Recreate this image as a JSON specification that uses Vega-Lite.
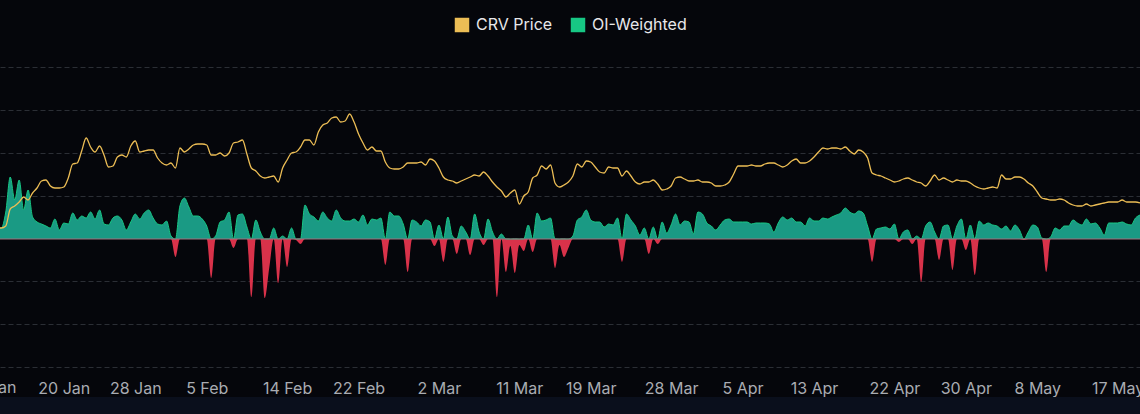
{
  "$schema": "https://vega.github.io/schema/vega-lite/v6.json",
  "width": 1140,
  "height": 300,
  "autosize": {"type": "none"},
  "padding": {"top": 67, "bottom": 47, "left": 0, "right": 0},
  "background": "#05060b",
  "config": {
    "view": {"stroke": null},
    "font": "Inter",
    "legend": {"layout": {"top": {"anchor": "middle"}}}
  },
  "data": {"values": [
    {"date":"2024-01-13T00:00","price":0.3475,"oi":0.0011},
    {"date":"2024-01-13T12:00","price":0.3475,"oi":0.0011},
    {"date":"2024-01-14T00:00","price":0.3525,"oi":0.0027},
    {"date":"2024-01-14T12:00","price":0.395,"oi":0.0062},
    {"date":"2024-01-15T00:00","price":0.4025,"oi":0.0039},
    {"date":"2024-01-15T12:00","price":0.4125,"oi":0.0059},
    {"date":"2024-01-16T00:00","price":0.425,"oi":0.0029},
    {"date":"2024-01-16T12:00","price":0.4175,"oi":0.0049},
    {"date":"2024-01-17T00:00","price":0.435,"oi":0.0022},
    {"date":"2024-01-17T12:00","price":0.4475,"oi":0.0017},
    {"date":"2024-01-18T00:00","price":0.465,"oi":0.0015},
    {"date":"2024-01-18T12:00","price":0.4675,"oi":0.0013},
    {"date":"2024-01-19T00:00","price":0.4525,"oi":0.0011},
    {"date":"2024-01-19T12:00","price":0.4475,"oi":0.002},
    {"date":"2024-01-20T00:00","price":0.4475,"oi":0.0009},
    {"date":"2024-01-20T12:00","price":0.45,"oi":0.0016},
    {"date":"2024-01-21T00:00","price":0.4725,"oi":0.0015},
    {"date":"2024-01-21T12:00","price":0.5075,"oi":0.0026},
    {"date":"2024-01-22T00:00","price":0.51,"oi":0.0019},
    {"date":"2024-01-22T12:00","price":0.54,"oi":0.0023},
    {"date":"2024-01-23T00:00","price":0.5725,"oi":0.0021},
    {"date":"2024-01-23T12:00","price":0.55,"oi":0.0027},
    {"date":"2024-01-24T00:00","price":0.5375,"oi":0.002},
    {"date":"2024-01-24T12:00","price":0.5525,"oi":0.0029},
    {"date":"2024-01-25T00:00","price":0.53,"oi":0.0015},
    {"date":"2024-01-25T12:00","price":0.5,"oi":0.0014},
    {"date":"2024-01-26T00:00","price":0.5025,"oi":0.0021},
    {"date":"2024-01-26T12:00","price":0.525,"oi":0.0023},
    {"date":"2024-01-27T00:00","price":0.53,"oi":0.0019},
    {"date":"2024-01-27T12:00","price":0.525,"oi":0.0009},
    {"date":"2024-01-28T00:00","price":0.5525,"oi":0.0017},
    {"date":"2024-01-28T12:00","price":0.565,"oi":0.0025},
    {"date":"2024-01-29T00:00","price":0.5375,"oi":0.002},
    {"date":"2024-01-29T12:00","price":0.54,"oi":0.0026},
    {"date":"2024-01-30T00:00","price":0.5425,"oi":0.0029},
    {"date":"2024-01-30T12:00","price":0.5425,"oi":0.0021},
    {"date":"2024-01-31T00:00","price":0.5225,"oi":0.0015},
    {"date":"2024-01-31T12:00","price":0.51,"oi":0.0014},
    {"date":"2024-02-01T00:00","price":0.505,"oi":0.0018},
    {"date":"2024-02-01T12:00","price":0.51,"oi":0.0003},
    {"date":"2024-02-02T00:00","price":0.4975,"oi":-0.0018},
    {"date":"2024-02-02T12:00","price":0.5475,"oi":0.0033},
    {"date":"2024-02-03T00:00","price":0.5375,"oi":0.0041},
    {"date":"2024-02-03T12:00","price":0.545,"oi":0.0032},
    {"date":"2024-02-04T00:00","price":0.555,"oi":0.0023},
    {"date":"2024-02-04T12:00","price":0.5575,"oi":0.0023},
    {"date":"2024-02-05T00:00","price":0.5575,"oi":0.002},
    {"date":"2024-02-05T12:00","price":0.555,"oi":0.0013},
    {"date":"2024-02-06T00:00","price":0.53,"oi":-0.0039},
    {"date":"2024-02-06T12:00","price":0.53,"oi":0.0003},
    {"date":"2024-02-07T00:00","price":0.535,"oi":0.0017},
    {"date":"2024-02-07T12:00","price":0.5275,"oi":0.0019},
    {"date":"2024-02-08T00:00","price":0.535,"oi":0.0027},
    {"date":"2024-02-08T12:00","price":0.56,"oi":-0.0009},
    {"date":"2024-02-09T00:00","price":0.5625,"oi":0.0024},
    {"date":"2024-02-09T12:00","price":0.5675,"oi":0.0025},
    {"date":"2024-02-10T00:00","price":0.5325,"oi":0.0012},
    {"date":"2024-02-10T12:00","price":0.4975,"oi":-0.0058},
    {"date":"2024-02-11T00:00","price":0.49,"oi":0.0019},
    {"date":"2024-02-11T12:00","price":0.4775,"oi":0.0007},
    {"date":"2024-02-12T00:00","price":0.4725,"oi":-0.0059},
    {"date":"2024-02-12T12:00","price":0.475,"oi":-0.0029},
    {"date":"2024-02-13T00:00","price":0.4775,"oi":0.0011},
    {"date":"2024-02-13T12:00","price":0.4625,"oi":-0.0044},
    {"date":"2024-02-14T00:00","price":0.4975,"oi":0.0003},
    {"date":"2024-02-14T12:00","price":0.5175,"oi":-0.0028},
    {"date":"2024-02-15T00:00","price":0.535,"oi":0.0011},
    {"date":"2024-02-15T12:00","price":0.5375,"oi":-0.0001},
    {"date":"2024-02-16T00:00","price":0.55,"oi":-0.0005},
    {"date":"2024-02-16T12:00","price":0.5675,"oi":0.0034},
    {"date":"2024-02-17T00:00","price":0.5675,"oi":0.0025},
    {"date":"2024-02-17T12:00","price":0.555,"oi":0.0022},
    {"date":"2024-02-18T00:00","price":0.5875,"oi":0.0018},
    {"date":"2024-02-18T12:00","price":0.605,"oi":0.0027},
    {"date":"2024-02-19T00:00","price":0.61,"oi":0.0021},
    {"date":"2024-02-19T12:00","price":0.6225,"oi":0.0018},
    {"date":"2024-02-20T00:00","price":0.625,"oi":0.0029},
    {"date":"2024-02-20T12:00","price":0.6125,"oi":0.0021},
    {"date":"2024-02-21T00:00","price":0.615,"oi":0.0018},
    {"date":"2024-02-21T12:00","price":0.6325,"oi":0.0018},
    {"date":"2024-02-22T00:00","price":0.6125,"oi":0.002},
    {"date":"2024-02-22T12:00","price":0.5825,"oi":0.0017},
    {"date":"2024-02-23T00:00","price":0.56,"oi":0.0024},
    {"date":"2024-02-23T12:00","price":0.5425,"oi":0.0014},
    {"date":"2024-02-24T00:00","price":0.55,"oi":0.002},
    {"date":"2024-02-24T12:00","price":0.54,"oi":0.0019},
    {"date":"2024-02-25T00:00","price":0.54,"oi":0.0021},
    {"date":"2024-02-25T12:00","price":0.5125,"oi":-0.0026},
    {"date":"2024-02-26T00:00","price":0.4975,"oi":0.0027},
    {"date":"2024-02-26T12:00","price":0.495,"oi":0.0023},
    {"date":"2024-02-27T00:00","price":0.495,"oi":0.0023},
    {"date":"2024-02-27T12:00","price":0.5,"oi":0.0015},
    {"date":"2024-02-28T00:00","price":0.51,"oi":-0.0033},
    {"date":"2024-02-28T12:00","price":0.51,"oi":0.0019},
    {"date":"2024-02-29T00:00","price":0.51,"oi":0.0017},
    {"date":"2024-02-29T12:00","price":0.5125,"oi":0.0013},
    {"date":"2024-03-01T00:00","price":0.505,"oi":0.0019},
    {"date":"2024-03-01T12:00","price":0.52,"oi":0.0017},
    {"date":"2024-03-02T00:00","price":0.515,"oi":-0.0007},
    {"date":"2024-03-02T12:00","price":0.4975,"oi":0.0014},
    {"date":"2024-03-03T00:00","price":0.475,"oi":-0.0023},
    {"date":"2024-03-03T12:00","price":0.4675,"oi":0.0022},
    {"date":"2024-03-04T00:00","price":0.465,"oi":0.0003},
    {"date":"2024-03-04T12:00","price":0.46,"oi":-0.0015},
    {"date":"2024-03-05T00:00","price":0.465,"oi":0.0013},
    {"date":"2024-03-05T12:00","price":0.47,"oi":0.0007},
    {"date":"2024-03-06T00:00","price":0.475,"oi":-0.0016},
    {"date":"2024-03-06T12:00","price":0.48,"oi":0.0025},
    {"date":"2024-03-07T00:00","price":0.4775,"oi":0.0007},
    {"date":"2024-03-07T12:00","price":0.4875,"oi":-0.0006},
    {"date":"2024-03-08T00:00","price":0.4775,"oi":0.002},
    {"date":"2024-03-08T12:00","price":0.4625,"oi":0.0007},
    {"date":"2024-03-09T00:00","price":0.45,"oi":-0.0058},
    {"date":"2024-03-09T12:00","price":0.44,"oi":0.0005},
    {"date":"2024-03-10T00:00","price":0.425,"oi":-0.0033},
    {"date":"2024-03-10T12:00","price":0.435,"oi":-0.0007},
    {"date":"2024-03-11T00:00","price":0.4425,"oi":-0.0034},
    {"date":"2024-03-11T12:00","price":0.4075,"oi":-0.0006},
    {"date":"2024-03-12T00:00","price":0.4275,"oi":-0.0012},
    {"date":"2024-03-12T12:00","price":0.4375,"oi":0.0014},
    {"date":"2024-03-13T00:00","price":0.4725,"oi":-0.0013},
    {"date":"2024-03-13T12:00","price":0.48,"oi":0.0026},
    {"date":"2024-03-14T00:00","price":0.5025,"oi":0.0018},
    {"date":"2024-03-14T12:00","price":0.495,"oi":0.0019},
    {"date":"2024-03-15T00:00","price":0.505,"oi":0.0021},
    {"date":"2024-03-15T12:00","price":0.46,"oi":-0.0029},
    {"date":"2024-03-16T00:00","price":0.45,"oi":-0.0006},
    {"date":"2024-03-16T12:00","price":0.455,"oi":-0.0018},
    {"date":"2024-03-17T00:00","price":0.4625,"oi":-0.0009},
    {"date":"2024-03-17T12:00","price":0.4775,"oi":0.0003},
    {"date":"2024-03-18T00:00","price":0.5075,"oi":0.0019},
    {"date":"2024-03-18T12:00","price":0.5,"oi":0.0022},
    {"date":"2024-03-19T00:00","price":0.515,"oi":0.0029},
    {"date":"2024-03-19T12:00","price":0.5125,"oi":0.0019},
    {"date":"2024-03-20T00:00","price":0.5,"oi":0.0017},
    {"date":"2024-03-20T12:00","price":0.4875,"oi":0.0017},
    {"date":"2024-03-21T00:00","price":0.485,"oi":0.0012},
    {"date":"2024-03-21T12:00","price":0.5,"oi":0.0015},
    {"date":"2024-03-22T00:00","price":0.4975,"oi":0.0014},
    {"date":"2024-03-22T12:00","price":0.4975,"oi":0.0021},
    {"date":"2024-03-23T00:00","price":0.4775,"oi":-0.0023},
    {"date":"2024-03-23T12:00","price":0.49,"oi":0.0025},
    {"date":"2024-03-24T00:00","price":0.4775,"oi":0.0019},
    {"date":"2024-03-24T12:00","price":0.4625,"oi":0.0013},
    {"date":"2024-03-25T00:00","price":0.4575,"oi":0.0004},
    {"date":"2024-03-25T12:00","price":0.4625,"oi":0.0011},
    {"date":"2024-03-26T00:00","price":0.4625,"oi":-0.0015},
    {"date":"2024-03-26T12:00","price":0.4675,"oi":0.0012},
    {"date":"2024-03-27T00:00","price":0.4575,"oi":-0.0005},
    {"date":"2024-03-27T12:00","price":0.4425,"oi":0.0017},
    {"date":"2024-03-28T00:00","price":0.445,"oi":0.0006},
    {"date":"2024-03-28T12:00","price":0.4525,"oi":0.0014},
    {"date":"2024-03-29T00:00","price":0.4725,"oi":0.0025},
    {"date":"2024-03-29T12:00","price":0.475,"oi":0.0014},
    {"date":"2024-03-30T00:00","price":0.47,"oi":0.0018},
    {"date":"2024-03-30T12:00","price":0.465,"oi":0.0017},
    {"date":"2024-03-31T00:00","price":0.465,"oi":0.0005},
    {"date":"2024-03-31T12:00","price":0.4675,"oi":0.0027},
    {"date":"2024-04-01T00:00","price":0.4625,"oi":0.0025},
    {"date":"2024-04-01T12:00","price":0.4625,"oi":0.0016},
    {"date":"2024-04-02T00:00","price":0.46,"oi":0.0013},
    {"date":"2024-04-02T12:00","price":0.4525,"oi":0.0009},
    {"date":"2024-04-03T00:00","price":0.4525,"oi":0.0014},
    {"date":"2024-04-03T12:00","price":0.455,"oi":0.0019},
    {"date":"2024-04-04T00:00","price":0.4625,"oi":0.002},
    {"date":"2024-04-04T12:00","price":0.4825,"oi":0.0017},
    {"date":"2024-04-05T00:00","price":0.5025,"oi":0.0017},
    {"date":"2024-04-05T12:00","price":0.5025,"oi":0.0017},
    {"date":"2024-04-06T00:00","price":0.5025,"oi":0.0017},
    {"date":"2024-04-06T12:00","price":0.505,"oi":0.0015},
    {"date":"2024-04-07T00:00","price":0.5025,"oi":0.0016},
    {"date":"2024-04-07T12:00","price":0.5025,"oi":0.0016},
    {"date":"2024-04-08T00:00","price":0.5075,"oi":0.0016},
    {"date":"2024-04-08T12:00","price":0.51,"oi":0.0015},
    {"date":"2024-04-09T00:00","price":0.51,"oi":0.0007},
    {"date":"2024-04-09T12:00","price":0.505,"oi":0.0016},
    {"date":"2024-04-10T00:00","price":0.5,"oi":0.0022},
    {"date":"2024-04-10T12:00","price":0.505,"oi":0.0019},
    {"date":"2024-04-11T00:00","price":0.515,"oi":0.0021},
    {"date":"2024-04-11T12:00","price":0.52,"oi":0.0017},
    {"date":"2024-04-12T00:00","price":0.51,"oi":0.0017},
    {"date":"2024-04-12T12:00","price":0.51,"oi":0.0013},
    {"date":"2024-04-13T00:00","price":0.515,"oi":0.0021},
    {"date":"2024-04-13T12:00","price":0.525,"oi":0.0018},
    {"date":"2024-04-14T00:00","price":0.5375,"oi":0.0018},
    {"date":"2024-04-14T12:00","price":0.5475,"oi":0.0021},
    {"date":"2024-04-15T00:00","price":0.545,"oi":0.002},
    {"date":"2024-04-15T12:00","price":0.5475,"oi":0.0022},
    {"date":"2024-04-16T00:00","price":0.5475,"oi":0.0024},
    {"date":"2024-04-16T12:00","price":0.545,"oi":0.0026},
    {"date":"2024-04-17T00:00","price":0.55,"oi":0.0031},
    {"date":"2024-04-17T12:00","price":0.54,"oi":0.0027},
    {"date":"2024-04-18T00:00","price":0.5325,"oi":0.0025},
    {"date":"2024-04-18T12:00","price":0.5425,"oi":0.0028},
    {"date":"2024-04-19T00:00","price":0.5375,"oi":0.0026},
    {"date":"2024-04-19T12:00","price":0.5225,"oi":0.0013},
    {"date":"2024-04-20T00:00","price":0.485,"oi":-0.0023},
    {"date":"2024-04-20T12:00","price":0.48,"oi":0.001},
    {"date":"2024-04-21T00:00","price":0.4775,"oi":0.0011},
    {"date":"2024-04-21T12:00","price":0.4725,"oi":0.0012},
    {"date":"2024-04-22T00:00","price":0.4675,"oi":0.001},
    {"date":"2024-04-22T12:00","price":0.4625,"oi":0.0015},
    {"date":"2024-04-23T00:00","price":0.465,"oi":-0.0003},
    {"date":"2024-04-23T12:00","price":0.47,"oi":0.0007},
    {"date":"2024-04-24T00:00","price":0.4725,"oi":0.0009},
    {"date":"2024-04-24T12:00","price":0.4675,"oi":-0.0005},
    {"date":"2024-04-25T00:00","price":0.4625,"oi":0.0003},
    {"date":"2024-04-25T12:00","price":0.46,"oi":-0.0043},
    {"date":"2024-04-26T00:00","price":0.4525,"oi":0.0013},
    {"date":"2024-04-26T12:00","price":0.465,"oi":0.0017},
    {"date":"2024-04-27T00:00","price":0.48,"oi":0.0007},
    {"date":"2024-04-27T12:00","price":0.4675,"oi":-0.0021},
    {"date":"2024-04-28T00:00","price":0.4725,"oi":0.0013},
    {"date":"2024-04-28T12:00","price":0.4675,"oi":0.0014},
    {"date":"2024-04-29T00:00","price":0.4625,"oi":-0.0031},
    {"date":"2024-04-29T12:00","price":0.4675,"oi":0.0013},
    {"date":"2024-04-30T00:00","price":0.465,"oi":0.002},
    {"date":"2024-04-30T12:00","price":0.465,"oi":-0.0011},
    {"date":"2024-05-01T00:00","price":0.46,"oi":0.0014},
    {"date":"2024-05-01T12:00","price":0.4525,"oi":-0.0036},
    {"date":"2024-05-02T00:00","price":0.4475,"oi":0.0018},
    {"date":"2024-05-02T12:00","price":0.445,"oi":0.0014},
    {"date":"2024-05-03T00:00","price":0.4475,"oi":0.0016},
    {"date":"2024-05-03T12:00","price":0.45,"oi":0.0014},
    {"date":"2024-05-04T00:00","price":0.4475,"oi":0.0013},
    {"date":"2024-05-04T12:00","price":0.48,"oi":0.001},
    {"date":"2024-05-05T00:00","price":0.47,"oi":0.0013},
    {"date":"2024-05-05T12:00","price":0.47,"oi":0.0008},
    {"date":"2024-05-06T00:00","price":0.475,"oi":0.0014},
    {"date":"2024-05-06T12:00","price":0.475,"oi":0.0009},
    {"date":"2024-05-07T00:00","price":0.47,"oi":-0.0001},
    {"date":"2024-05-07T12:00","price":0.46,"oi":0.0007},
    {"date":"2024-05-08T00:00","price":0.4525,"oi":0.0014},
    {"date":"2024-05-08T12:00","price":0.4375,"oi":0.0012},
    {"date":"2024-05-09T00:00","price":0.4225,"oi":0.0001},
    {"date":"2024-05-09T12:00","price":0.42,"oi":-0.0033},
    {"date":"2024-05-10T00:00","price":0.4175,"oi":0.0002},
    {"date":"2024-05-10T12:00","price":0.4175,"oi":0.0011},
    {"date":"2024-05-11T00:00","price":0.42,"oi":0.0009},
    {"date":"2024-05-11T12:00","price":0.4175,"oi":0.0013},
    {"date":"2024-05-12T00:00","price":0.41,"oi":0.0013},
    {"date":"2024-05-12T12:00","price":0.405,"oi":0.0019},
    {"date":"2024-05-13T00:00","price":0.4025,"oi":0.0016},
    {"date":"2024-05-13T12:00","price":0.4025,"oi":0.0014},
    {"date":"2024-05-14T00:00","price":0.4075,"oi":0.002},
    {"date":"2024-05-14T12:00","price":0.4025,"oi":0.0015},
    {"date":"2024-05-15T00:00","price":0.405,"oi":0.0016},
    {"date":"2024-05-15T12:00","price":0.4075,"oi":0.0011},
    {"date":"2024-05-16T00:00","price":0.41,"oi":0.0004},
    {"date":"2024-05-16T12:00","price":0.4125,"oi":0.0016},
    {"date":"2024-05-17T00:00","price":0.4125,"oi":0.0016},
    {"date":"2024-05-17T12:00","price":0.4125,"oi":0.0016},
    {"date":"2024-05-18T00:00","price":0.4175,"oi":0.0017},
    {"date":"2024-05-18T12:00","price":0.4125,"oi":0.0015},
    {"date":"2024-05-19T00:00","price":0.4125,"oi":0.0014},
    {"date":"2024-05-19T12:00","price":0.4125,"oi":0.0021},
    {"date":"2024-05-20T00:00","price":0.41,"oi":0.0024}
  ]},
  "transform": [
    {"calculate": "max(datum.oi, 0)", "as": "pos"},
    {"calculate": "min(datum.oi, 0)", "as": "neg"}
  ],
  "encoding": {
    "x": {
      "field": "date",
      "type": "temporal",
      "title": null,
      "scale": {"domain": [
        {"year": 2024, "month": 1, "date": 13, "hours": 8, "minutes": 30},
        {"year": 2024, "month": 5, "date": 20, "hours": 0}
      ]},
      "axis": {
        "format": "%-d %b",
        "values": [
          {"year": 2024, "month": 1, "date": 20, "hours": 12},
          {"year": 2024, "month": 1, "date": 28, "hours": 12},
          {"year": 2024, "month": 2, "date": 5, "hours": 12},
          {"year": 2024, "month": 2, "date": 14, "hours": 12},
          {"year": 2024, "month": 2, "date": 22, "hours": 12},
          {"year": 2024, "month": 3, "date": 2, "hours": 12},
          {"year": 2024, "month": 3, "date": 11, "hours": 12},
          {"year": 2024, "month": 3, "date": 19, "hours": 12},
          {"year": 2024, "month": 3, "date": 28, "hours": 12},
          {"year": 2024, "month": 4, "date": 5, "hours": 12},
          {"year": 2024, "month": 4, "date": 13, "hours": 12},
          {"year": 2024, "month": 4, "date": 22, "hours": 12},
          {"year": 2024, "month": 4, "date": 30, "hours": 12},
          {"year": 2024, "month": 5, "date": 8, "hours": 12},
          {"year": 2024, "month": 5, "date": 17, "hours": 12}
        ],
        "grid": false,
        "domain": false,
        "ticks": false,
        "tickSize": 0,
        "labelPadding": 13,
        "labelFontSize": 16,
        "labelFont": "Inter",
        "labelColor": "#a9acb2",
        "labelOverlap": false,
        "labelFlush": false,
        "labelBound": false
      }
    }
  },
  "layer": [
    {
      "layer": [
        {
          "data": {"values": [{"date": "2024-01-10T00:00", "end": "2024-05-24T00:00"}]},
          "mark": {"type": "rect", "color": "#0a0f1c"},
          "encoding": {
            "x2": {"field": "end"},
            "y": {"datum": -0.0158, "type": "quantitative"},
            "y2": {"datum": -0.0200}
          }
        },
        {
          "data": {"values": [{"date": "2024-01-12T12:00", "label": "12 Jan"}]},
          "mark": {"type": "text", "font": "Inter", "fontSize": 16, "color": "#a9acb2", "align": "center", "baseline": "top"},
          "encoding": {
            "y": {"datum": -0.0141, "type": "quantitative"},
            "text": {"field": "label", "type": "nominal"}
          }
        },
        {
          "mark": {"type": "area", "interpolate": "monotone", "color": "#1a9a84", "opacity": 1},
          "encoding": {
            "y": {
              "field": "pos",
              "type": "quantitative",
              "title": null,
              "scale": {"domain": [-0.0128, 0.0172], "nice": false, "zero": false},
              "axis": {
                "orient": "left",
                "labels": false,
                "ticks": false,
                "domain": false,
                "grid": true,
                "gridColor": "#2b2e35",
                "gridDash": [5, 3],
                "gridWidth": 1,
                "values": [-0.0128, -0.008514, -0.004229, 0.000057, 0.004343, 0.008629, 0.012914, 0.0172]
              }
            },
            "y2": {"datum": 0}
          }
        },
        {
          "mark": {"type": "area", "interpolate": "monotone", "color": "#d9324a"},
          "encoding": {
            "y": {"field": "neg", "type": "quantitative"},
            "y2": {"datum": 0}
          }
        },
        {
          "mark": {"type": "line", "interpolate": "monotone", "strokeWidth": 1},
          "encoding": {
            "y": {"field": "pos", "type": "quantitative"},
            "color": {"datum": "OI-Weighted"}
          }
        },
        {
          "data": {"values": [{"date": "2024-01-13T00:00", "end": "2024-05-21T00:00"}]},
          "mark": {"type": "rule", "color": "#a0727f", "strokeWidth": 1.2},
          "encoding": {
            "x2": {"field": "end"},
            "y": {"datum": 0, "type": "quantitative"}
          }
        }
      ]
    },
    {
      "mark": {"type": "line", "interpolate": "monotone", "strokeWidth": 1.3},
      "encoding": {
        "y": {
          "field": "price",
          "type": "quantitative",
          "scale": {"domain": [0, 0.75], "nice": false},
          "axis": null
        },
        "color": {
          "datum": "CRV Price",
          "type": "nominal",
          "scale": {"domain": ["CRV Price", "OI-Weighted"], "range": ["#ecbd55", "#17c784"]},
          "legend": {
            "title": null,
            "orient": "top",
            "direction": "horizontal",
            "offset": 34,
            "symbolType": "square",
            "symbolSize": 210,
            "symbolStrokeWidth": 0,
            "symbolOpacity": 1,
            "labelFontSize": 16,
            "labelFont": "Inter",
            "labelColor": "#e8e8ea",
            "labelOffset": 6,
            "columnPadding": 17,
            "encode": {
              "symbols": {"update": {"fill": {"scale": "color", "field": "value"}, "opacity": {"value": 1}}}
            }
          }
        }
      }
    }
  ],
  "resolve": {"scale": {"y": "independent"}}
}
